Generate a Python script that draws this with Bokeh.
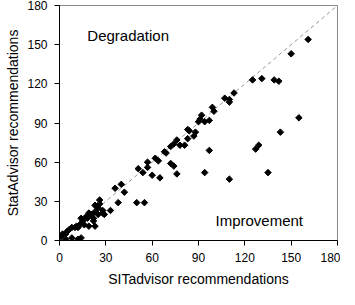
import math
from bokeh.plotting import figure
from bokeh.models import Range1d, FixedTicker, Label
from bokeh.embed import file_html
from bokeh.resources import INLINE

# SITadvisor recommendations (x) vs StatAdvisor recommendations (y)
sit_advisor = [1, 2, 4, 4, 5, 6, 8, 8, 10, 11, 12, 12, 13, 14, 14, 15, 16, 17, 18, 19,
               19, 20, 21, 22, 22, 23, 23, 24, 23, 25, 25, 26, 26, 28, 28, 29, 33, 36,
               38, 40, 42, 50, 55, 51, 54, 57, 57, 60, 62, 64, 65, 68, 69, 72, 74, 76,
               72, 74, 76, 78, 81, 83, 83, 84, 87, 88, 90, 91, 92, 94, 97, 97, 94, 99,
               100, 107, 110, 110, 113, 110, 125, 131, 139, 142, 127, 129, 135, 143,
               150, 155, 161]
stat_advisor = [3, 5, 5, 1, 7, 8, 10, 2, 10, 11, 1, 10, 12, 2, 17, 15, 12, 18, 17, 21,
                11, 20, 20, 17, 15, 11, 22, 26, 27, 25, 20, 28, 31, 21, 23, 20, 23, 40,
                29, 43, 37, 29, 29, 55, 52, 56, 60, 50, 63, 61, 48, 68, 67, 59, 57, 51,
                72, 74, 77, 73, 73, 78, 85, 84, 80, 83, 91, 93, 96, 91, 92, 69, 52, 102,
                99, 109, 108, 106, 113, 47, 123, 124, 123, 122, 70, 73, 52, 83,
                143, 94, 154]
ticks = [0, 30, 60, 90, 120, 150, 180]
diag = [0, 180]

FONT = "Liberation Sans"

p = figure(width=340, height=289, output_backend="svg", toolbar_location=None,
           x_range=Range1d(0, 180), y_range=Range1d(0, 180),
           min_border_left=59, min_border_right=3, min_border_top=5,
           min_border_bottom=44)
p.xgrid.visible = False
p.ygrid.visible = False
p.outline_line_color = "#888888"
p.background_fill_color = "white"
p.border_fill_color = "white"

for ax in (p.xaxis[0], p.yaxis[0]):
    ax.ticker = FixedTicker(ticks=ticks)
    ax.minor_tick_line_color = None
    ax.major_tick_in = 0
    ax.major_tick_out = 5
    ax.axis_line_color = "black"
    ax.major_tick_line_color = "black"
    ax.major_label_text_font = FONT
    ax.major_label_text_font_size = "12px"
    ax.major_label_text_color = "black"
    ax.axis_label_text_font = FONT
    ax.axis_label_text_font_size = "14px"
    ax.axis_label_text_font_style = "normal"
    ax.axis_label_text_color = "black"

p.xaxis.axis_label = "SITadvisor recommendations"
p.yaxis.axis_label = "StatAdvisor recommendations"
p.xaxis.major_label_standoff = 7
p.yaxis.major_label_standoff = 7
p.xaxis.axis_label_standoff = 6
p.yaxis.axis_label_standoff = 3

p.line(diag, diag, line_color="#999999", line_dash="4 3", line_width=1)
p.scatter(sit_advisor, stat_advisor, marker="square", angle=math.pi / 4,
          size=4.6, fill_color="black", line_color="black")

p.add_layout(Label(x=18, y=157, text="Degradation", text_font=FONT,
                   text_font_size="15px", text_color="black",
                   text_baseline="alphabetic"))
p.add_layout(Label(x=101, y=15, text="Improvement", text_font=FONT,
                   text_font_size="15px", text_color="black",
                   text_baseline="alphabetic"))

open("out.html", "w").write(file_html(p, INLINE))
